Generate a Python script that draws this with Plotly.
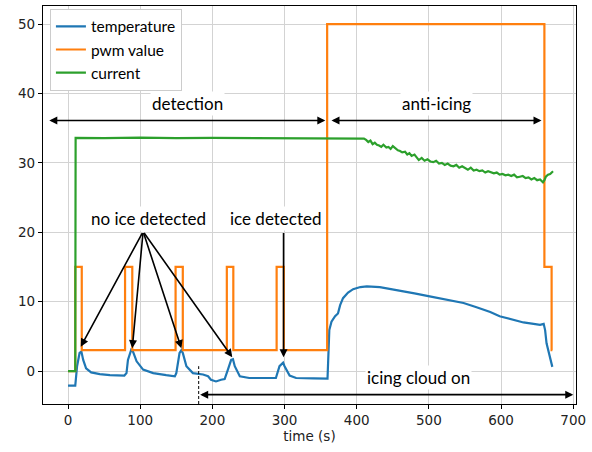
import plotly.graph_objects as go

# ---- data ----
t_temp = [0, 10, 12.5, 16, 18.5, 21, 25, 32, 44, 58,
          78, 81, 83, 87.5, 90, 95, 104, 118, 136, 148,
          150, 154.5, 157, 159, 164, 173, 187, 194, 198, 205,
          212, 217, 221.5, 226, 228.5, 231, 238, 251, 288, 293,
          298, 300, 307, 316, 340, 359.5, 362, 365, 370, 374,
          377, 381, 388, 395, 405, 414, 432, 460, 480, 501,
          525, 548, 566, 585, 598, 615, 631, 645, 654, 659,
          661, 663, 667.5, 671]
temperature = [-2.1, -2.1, 0.7, 2.6, 2.8, 1.6, 0.4, -0.2, -0.45, -0.6,
               -0.65, -0.3, 1.6, 3.05, 2.8, 1.4, 0.2, -0.3, -0.6, -0.75,
               -0.3, 2.6, 3.0, 2.6, 0.7, -0.3, -0.5, -0.75, -1.25, -1.5,
               -1.25, -1.15, 0.2, 1.6, 1.7, 0.7, -0.75, -1.0, -1.0, 0.7,
               1.2, 0.7, -0.65, -1.0, -1.05, -1.1, 5.9, 7.1, 7.9, 8.3,
               9.5, 10.5, 11.3, 11.8, 12.1, 12.2, 12.1, 11.6, 11.2, 10.75,
               10.3, 9.8, 9.2, 8.5, 7.9, 7.4, 7.0, 6.8, 6.65, 6.8,
               5.9, 4.0, 2.1, 0.6]

t_pwm = [0, 10, 19, 79, 89, 149, 159, 220, 229, 289, 299, 359, 660, 670, 671]
pwm = [0, 15, 3, 15, 3, 15, 3, 15, 3, 15, 3, 50, 15, 3, 3]

t_cur = [0, 10, 10.5, 50, 100, 150, 200, 250, 300, 350, 400, 410, 413, 416, 419, 422, 425,
         428, 431, 434, 437, 441, 444, 447, 450, 453, 457, 460, 463, 467, 470, 473, 476,
         480, 483, 486, 490, 494, 498, 502, 506, 510, 514, 518, 522, 526, 530, 534, 538,
         542, 546, 550, 554, 558, 562, 566, 570, 574, 578, 582, 586, 590, 594, 598, 602,
         606, 610, 614, 618, 622, 626, 630, 634, 638, 642, 646, 650, 654, 658, 660, 662,
         665, 668, 672]
current = [0, 0, 33.6, 33.55, 33.62, 33.55, 33.6, 33.57, 33.62, 33.58, 33.55, 33.5, 33.3, 33.0, 33.2, 32.7, 32.9,
           32.6, 32.5, 32.3, 32.6, 32.2, 32.3, 32.0, 32.4, 32.1, 31.8, 31.7, 31.5, 31.6, 31.2, 31.4, 31.0,
           31.2, 30.8, 30.4, 30.7, 30.3, 30.5, 30.2, 30.1, 30.3, 29.9, 30.0, 29.7, 29.9, 29.6, 29.5, 29.7,
           29.3, 29.5, 29.2, 29.0, 29.3, 28.9, 29.0, 28.8, 28.9, 28.6, 28.8, 28.7, 28.5, 28.6, 28.3, 28.4,
           28.2, 28.3, 28.1, 28.3, 27.9, 28.0, 28.1, 27.8, 27.9, 27.6, 27.8, 27.5, 27.6, 27.2, 27.5, 28.0,
           28.3, 28.4, 28.8]

x_ticks = [0, 100, 200, 300, 400, 500, 600, 700]
y_ticks = [0, 10, 20, 30, 40, 50]

ANN_FONT = dict(family="Lato", size=17, color="black")
TICK_FONT = dict(family="DejaVu Sans", size=13.5, color="#222")

fig = go.Figure()
fig.add_trace(go.Scatter(x=t_temp, y=temperature, mode="lines", name="temperature",
                         line=dict(color="#1f77b4", width=2.2)))
fig.add_trace(go.Scatter(x=t_pwm, y=pwm, mode="lines", name="pwm value",
                         line=dict(color="#ff7f0e", width=2.2, shape="hv")))
fig.add_trace(go.Scatter(x=t_cur, y=current, mode="lines", name="current",
                         line=dict(color="#2ca02c", width=2.2)))

def arrow(x, y, ax, ay, both=False):
    fig.add_annotation(x=x, y=y, ax=ax, ay=ay, xref="x", yref="y", axref="x", ayref="y",
                       text="", showarrow=True, arrowhead=2, arrowsize=1, arrowwidth=1.6,
                       arrowcolor="black", arrowside="end+start" if both else "end",
                       startarrowhead=2, startarrowsize=1)

# phase arrows
arrow(356.5, 36.1, -28, 36.1, both=True)
arrow(656, 36.1, 363, 36.1, both=True)
arrow(700, -3.4, 181, -3.4, both=True)
# detection arrows
for hx, hy in [(17.6, 3.5), (89, 3.3), (157, 3.3), (227.5, 2.0)]:
    arrow(hx, hy, 104, 20.1)
arrow(298.6, 2.0, 298.6, 20.1)

def label(x, y, txt):
    fig.add_annotation(x=x, y=y, xref="x", yref="y", text=txt, showarrow=False,
                       font=ANN_FONT, bgcolor="white", borderpad=1)

label(166, 38.6, "detection")
label(511, 38.6, "anti-icing")
label(111, 22.0, "no ice detected")
label(288, 22.0, "ice detected")
label(485, -0.9, "icing cloud on")

fig.add_shape(type="line", x0=181, x1=181, y0=-4.75, y1=0.7, xref="x", yref="y",
              line=dict(color="black", width=1, dash="3px,2px"))

axis_common = dict(showline=True, linecolor="black", linewidth=1.2, mirror=True,
                   ticks="outside", ticklen=4, tickcolor="black", automargin=False,
                   showgrid=True, gridcolor="#d3d3d3", gridwidth=1, zeroline=False,
                   tickfont=TICK_FONT)
fig.update_xaxes(range=[-34.7, 703.8], tickvals=x_ticks,
                 title=dict(text="time (s)", font=TICK_FONT, standoff=4), **axis_common)
fig.update_yaxes(range=[-4.75, 52.6], tickvals=y_ticks, **axis_common)

fig.update_layout(
    width=592, height=452,
    margin=dict(l=43, r=16, t=6, b=48),
    plot_bgcolor="white", paper_bgcolor="white",
    legend=dict(x=0.013, y=0.993, xanchor="left", yanchor="top",
                bgcolor="white", bordercolor="#cccccc", borderwidth=1,
                font=dict(family="Lato", size=15.5, color="black"),
                tracegroupgap=0, itemwidth=30),
    showlegend=True,
)

fig.write_html("out.html", config={"displayModeBar": False},
               post_script="document.body.style.margin='0px';")
